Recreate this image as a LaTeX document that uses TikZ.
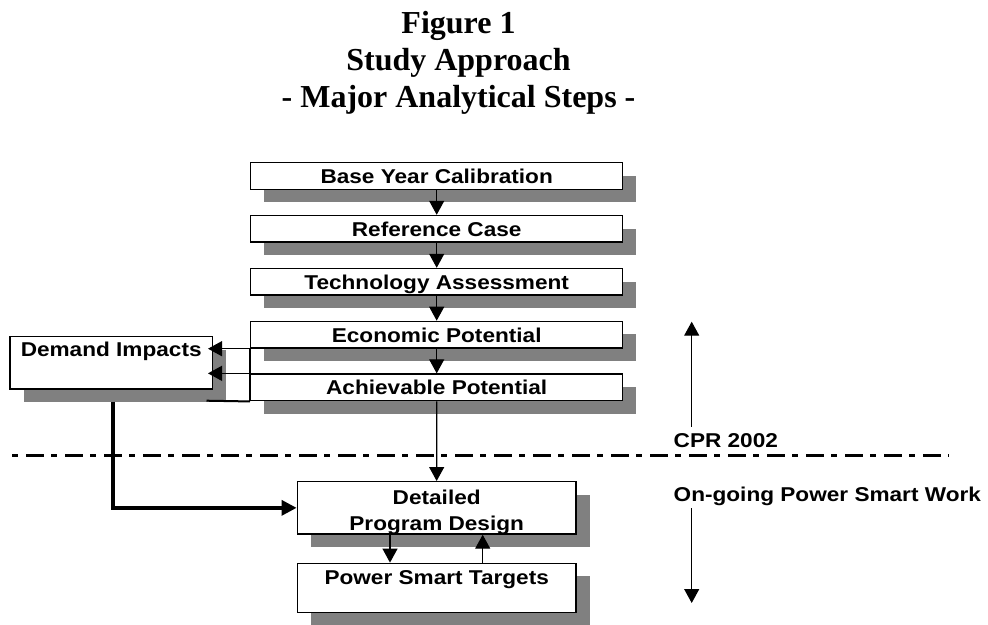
\documentclass[tikz,border=0pt]{standalone}
\usepackage{fontspec}
\usetikzlibrary{arrows.meta,shadows}
\newfontfamily\boxfont{Liberation Sans}[FakeStretch=1.13]
\newfontfamily\titlefont{Liberation Serif}
\definecolor{shadowgray}{RGB}{128,128,128}
\tikzset{
  stepbox/.style={draw, line width=1.4pt, fill=white, inner sep=0pt,
    drop shadow={shadow xshift=13.5pt, shadow yshift=-13pt, opacity=1, fill=shadowgray}},
  lbl/.style={inner sep=0pt, anchor=base, font=\boxfont\bfseries\fontsize{20}{26}\selectfont},
  ttl/.style={inner sep=0pt, anchor=base, font=\titlefont\bfseries\fontsize{32}{37}\selectfont},
  arr/.style={line width=1.2pt, -{Triangle[length=14pt,width=15pt]}},
  thickarr/.style={line width=3.3pt, -{Triangle[length=15pt,width=15pt]}},
  divider/.style={line width=3.5pt, dash pattern=on 18pt off 7pt on 6pt off 8pt, dash phase=21pt}
}
\begin{document}
\begin{tikzpicture}[x=1pt,y=-1pt]
\useasboundingbox (0,0) rectangle (988,624);
% title
\node[ttl] (t1) at (458.5,33.3) {Figure 1};
\node[ttl] (t2) at (458.5,70.7) {Study Approach};
\node[ttl] (t3) at (458.5,107) {- Major Analytical Steps -};
% main column
\node[stepbox, minimum width=372pt, minimum height=26.6pt] (base) at (436.7,176) {};
\node[stepbox, minimum width=372pt, minimum height=26.6pt] (ref) at (436.7,228.8) {};
\node[stepbox, minimum width=372pt, minimum height=26.6pt] (tech) at (436.7,281.8) {};
\node[stepbox, minimum width=372pt, minimum height=26.6pt] (eco) at (436.7,334.7) {};
\node[stepbox, minimum width=372pt, minimum height=26.7pt] (ach) at (436.7,387.4) {};
\node[stepbox, minimum width=202.3pt, minimum height=52.3pt] (dem) at (111.15,362.85) {};
\node[stepbox, minimum width=278.7pt, minimum height=52.3pt] (det) at (436.65,507.85) {};
\node[stepbox, minimum width=278.7pt, minimum height=49.4pt] (pst) at (436.65,588) {};
% labels
\node[lbl] at (436.7,183.3) {Base Year Calibration};
\node[lbl] at (436.7,236.1) {Reference Case};
\node[lbl] at (436.7,289.1) {Technology Assessment};
\node[lbl] at (436.7,342) {Economic Potential};
\node[lbl] at (436.7,394.3) {Achievable Potential};
\node[lbl] at (111.2,356.7) {Demand Impacts};
\node[lbl] at (436.7,504) {Detailed};
\node[lbl] at (436.7,530) {Program Design};
\node[lbl] at (436.7,584) {Power Smart Targets};
\node[lbl, anchor=base west] (cpr) at (673.5,447.5) {CPR 2002};
\node[lbl, anchor=base west] (ongo) at (673.5,501) {On-going Power Smart Work};
% coordinates
\coordinate (fr) at (206.5,400.7);
\coordinate (dstart) at (113,401.7);
\coordinate (bend) at (113,507.85);
\coordinate (xd) at (390,0);
\coordinate (xu) at (482.7,0);
\coordinate (upA) at (691.7,426.7);
\coordinate (upB) at (691.7,321.7);
\coordinate (dnA) at (691.7,508);
\coordinate (dnB) at (691.7,603);
\coordinate (dl) at (8,455.5);
\coordinate (dr) at (948.3,455.5);
% divider
\draw[divider] (dl) -- (dr);
% connectors
\draw[arr] (base) -- (ref);
\draw[arr] (ref) -- (tech);
\draw[arr] (tech) -- (eco);
\draw[arr] (eco) -- (ach);
\draw[line width=1.3pt] (eco.south west) -- (ach.south west);
\draw[line width=2pt] (ach.south west) -- (fr);
\draw[arr, shorten >=-5pt] (eco.south west) -- (eco.south west -| dem.east);
\draw[arr, shorten >=-5pt] (ach.north west) -- (ach.north west -| dem.east);
\draw[arr] (ach) -- (det);
\draw[thickarr] (dstart) -- (bend) -- (det.west);
\draw[arr] (det.south -| xd) -- (pst.north -| xd);
\draw[arr] (pst.north -| xu) -- (det.south -| xu);
\draw[arr] (upA) -- (upB);
\draw[arr] (dnA) -- (dnB);
\end{tikzpicture}
\end{document}
